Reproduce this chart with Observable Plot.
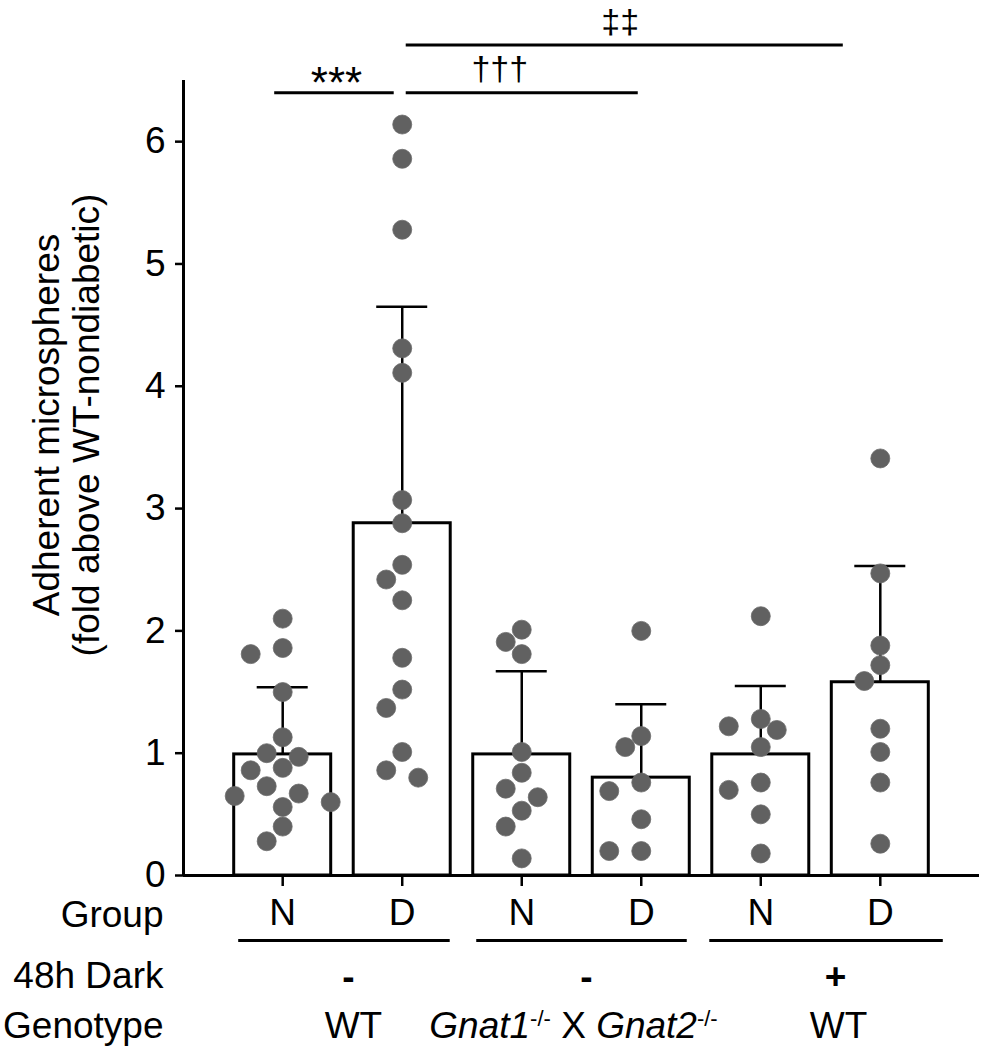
<!DOCTYPE html>
<html>
<head>
<meta charset="utf-8">
<script src="https://cdn.jsdelivr.net/npm/d3@7"></script>
<script src="https://cdn.jsdelivr.net/npm/@observablehq/plot@0.6"></script>
<style>
  body { margin: 0; background: #fff; }
  #chart svg { display: block; }
</style>
</head>
<body>
<div id="chart"></div>
<script>
// ---------- data ----------
const groupLabels = ["N", "D", "N", "D", "N", "D"];
const wtN   = [2.10, 1.86, 1.81, 1.50, 1.13, 1.00, 0.97, 0.88, 0.86, 0.73, 0.67, 0.65, 0.60, 0.56, 0.40, 0.28];
const wtD   = [6.14, 5.86, 5.28, 4.31, 4.11, 3.07, 2.88, 2.54, 2.42, 2.25, 1.78, 1.52, 1.37, 1.01, 0.86, 0.80];
const koN   = [2.01, 1.91, 1.81, 1.01, 0.84, 0.71, 0.64, 0.53, 0.40, 0.14];
const koD   = [2.00, 1.14, 1.05, 0.76, 0.69, 0.46, 0.20, 0.20];
const darkN = [2.12, 1.28, 1.22, 1.19, 1.05, 0.76, 0.70, 0.50, 0.18];
const darkD = [3.41, 2.47, 1.88, 1.72, 1.59, 1.20, 1.01, 0.76, 0.26];
const means = [0.99, 2.88, 0.99, 0.80, 0.99, 1.58];
const sds   = [0.55, 1.77, 0.68, 0.60, 0.56, 0.95];
const yTicks = [0, 1, 2, 3, 4, 5, 6];
const yLabel = "Adherent microspheres\n(fold above WT-nondiabetic)";
const rowLabels = ["Group", "48h Dark", "Genotype"];
const pairStart = [0, 2, 4];
const darkLabels = ["-", "-", "+"];
const genotypeLabels = ["WT", "Gnat1-/- X Gnat2-/-", "WT"];
const bracketFrom = [0, 1, 1];
const bracketTo = [1, 3, 5];
const bracketLabels = ["***", "\u2020\u2020\u2020", "\u2021\u2021"];
const bracketLevels = [6.40, 6.40, 6.79];

// ---------- layout ----------
const W = 988, H = 1050;
const mL = 183, mR = 9, mT = 80, mB = 175;
const xDomain = [-0.83, 5.83];
const yMax = 6.5;
const kx = (W - mL - mR) / (xDomain[1] - xDomain[0]);
const ky = (H - mT - mB) / yMax;
const R = 9.5;
const FONT = "'Liberation Sans', Arial, Helvetica, sans-serif";

const series = [wtN, wtD, koN, koD, darkN, darkD];

// simple beeswarm in pixel space, converted back to x units
function swarm(values, gi) {
  const step = 16, minD = 19;
  const placed = [];
  const sorted = values.slice().sort((a, b) => b - a);
  return sorted.map(v => {
    const py = v * ky;
    let off = 0;
    search: for (let k = 0; k < 30; k++) {
      const cands = k === 0 ? [0] : [-k * step, k * step];
      for (const c of cands) {
        if (placed.every(p => Math.hypot(p.x - c, p.y - py) >= minD)) { off = c; break search; }
      }
    }
    placed.push({x: off, y: py});
    return {gi, value: v, x: gi + off / kx};
  });
}
const points = series.flatMap((vals, gi) => swarm(vals, gi));
const stats = means.map((m, i) => ({i, mean: m, top: m + sds[i]}));

// ---------- marks ----------
const marks = [];
// bars
marks.push(Plot.rectY(stats, {x1: "i", x2: "i", y1: 0, y2: "mean", insetLeft: -48.5, insetRight: -48.5,
  fill: "white", stroke: "black", strokeWidth: 3}));
// error bars (upper only)
marks.push(Plot.ruleX(stats, {x: "i", y1: "mean", y2: "top", stroke: "black", strokeWidth: 2.5}));
marks.push(Plot.ruleY(stats, {x1: "i", x2: "i", y: "top", insetLeft: -25.5, insetRight: -25.5, stroke: "black", strokeWidth: 2.5}));
// dots
marks.push(Plot.dot(points, {x: "x", y: "value", r: R, fill: "#616161", stroke: "#6b6b6b", strokeWidth: 0.8}));
// axes lines
marks.push(Plot.ruleY([0], {stroke: "black", strokeWidth: 3}));
marks.push(Plot.ruleX([xDomain[0]], {y1: 0, y2: yMax, stroke: "black", strokeWidth: 3}));
// axes ticks + labels
marks.push(Plot.axisY({ticks: yTicks, tickFormat: d => String(d), tickSize: 8, tickPadding: 10, strokeWidth: 2.5, fontSize: 37, label: null}));
marks.push(Plot.axisX({ticks: groupLabels.map((d, i) => i), tickFormat: i => groupLabels[i], tickSize: 11, tickPadding: 12, strokeWidth: 2.5, fontSize: 37, label: null}));
// y label
marks.push(Plot.text([yLabel], {frameAnchor: "left", rotate: -90, dx: -117, dy: -53, textAnchor: "middle", lineAnchor: "middle", lineHeight: 1.08, fontSize: 37}));

// significance brackets
const bStyle = [
  {insetLeft: -8, insetRight: 8, dx: -6, dy: -9, fontSize: 44},
  {insetLeft: 4, insetRight: 3, dx: -22, dy: -24, fontSize: 34},
  {insetLeft: 4, insetRight: 37, dx: -21, dy: -23, fontSize: 34}
];
bracketLabels.forEach((lab, b) => {
  const s = bStyle[b];
  const d = [{x1: bracketFrom[b], x2: bracketTo[b], y: bracketLevels[b], mid: (bracketFrom[b] + bracketTo[b]) / 2, lab}];
  marks.push(Plot.ruleY(d, {x1: "x1", x2: "x2", y: "y", insetLeft: s.insetLeft, insetRight: s.insetRight, stroke: "black", strokeWidth: 3}));
  marks.push(Plot.text(d, {x: "mid", y: "y", text: "lab", dx: s.dx, dy: s.dy, fontSize: s.fontSize, lineAnchor: "middle"}));
});

// bottom table: row labels
const rowDy = [25, 86, 136];
rowLabels.forEach((lab, r) => {
  marks.push(Plot.text([lab], {frameAnchor: "bottom-left", textAnchor: "end", lineAnchor: "top", dx: -20, dy: rowDy[r], fontSize: 37}));
});
// underlines under group pairs
const ulInsets = [[-44, -48], [-45, -46], [-51, -63]];
pairStart.forEach((p, k) => {
  marks.push(Plot.ruleY([{a: p, b: p + 1}], {x1: "a", x2: "b", y: () => 0, dy: 65,
    insetLeft: ulInsets[k][0], insetRight: ulInsets[k][1], stroke: "black", strokeWidth: 3}));
});
// 48h dark row and genotype row
const darkDx = [6, 5, 15];
const genoDx = [11, -8, 18];
pairStart.forEach((p, k) => {
  marks.push(Plot.text([{m: p + 0.5, t: darkLabels[k]}], {x: "m", y: () => 0, text: "t", dx: darkDx[k], dy: 87 + 26.3 - 0.32 * 37,
    fontSize: 37, fontWeight: "bold", lineAnchor: "middle"}));
  marks.push(Plot.text([{m: p + 0.5, t: genotypeLabels[k]}], {x: "m", y: () => 0, text: "t", dx: genoDx[k], dy: 136 + 26.3 - 0.32 * 37,
    fontSize: 37, lineAnchor: "middle"}));
});

const chart = Plot.plot({
  width: W, height: H,
  marginLeft: mL, marginRight: mR, marginTop: mT, marginBottom: mB,
  x: {type: "linear", domain: xDomain, axis: null},
  y: {domain: [0, yMax], axis: null},
  style: {fontFamily: FONT, fontSize: "37px", background: "white", color: "black", overflow: "visible"},
  marks
});

// superscripts / italics for the knockout genotype
d3.select(chart).selectAll("text").filter(function () { return this.textContent === "Gnat1-/- X Gnat2-/-"; })
  .each(function () {
    const t = d3.select(this);
    t.text(null);
    const parts = [
      {s: "Gnat1", it: true}, {s: "-/-", sup: true}, {s: " X "}, {s: "Gnat2", it: true}, {s: "-/-", sup: true}
    ];
    parts.forEach(p => {
      const ts = t.append("tspan").text(p.s);
      if (p.it) ts.attr("font-style", "italic");
      if (p.sup) ts.attr("font-size", "22px").attr("baseline-shift", "55%");
    });
  });

document.getElementById("chart").appendChild(chart);
</script>
</body>
</html>
